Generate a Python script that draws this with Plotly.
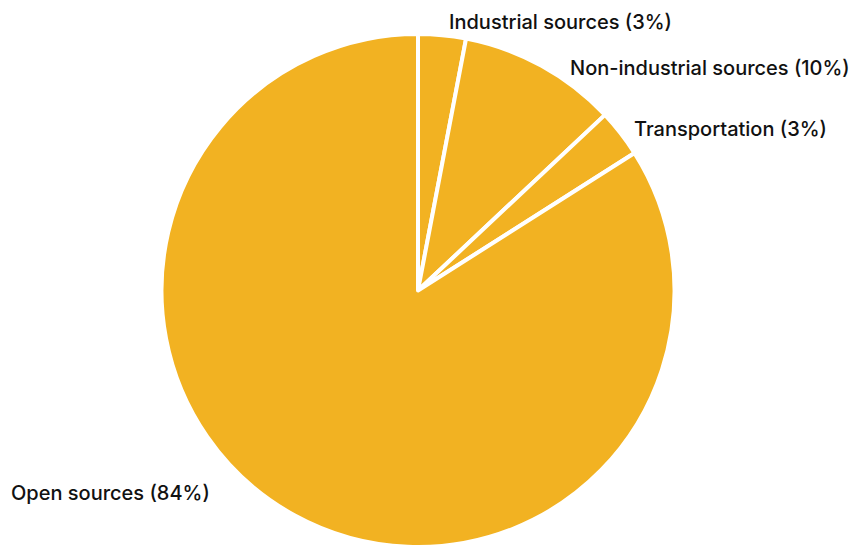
import plotly.graph_objects as go

# Emission sources and their shares (%)
categories = ["Industrial sources", "Non-industrial sources", "Transportation", "Open sources"]
shares = [3, 10, 3, 84]

W, H = 860, 547
TOP = 34  # top margin; paper coordinates span the area below it

# Label anchor points in pixels (x, y, horizontal anchor)
label_anchors = [
    (447, 22, "left"),
    (568, 68, "left"),
    (632, 129, "left"),
    (212, 493, "right"),
]

fig = go.Figure(
    go.Pie(
        labels=categories,
        values=shares,
        sort=False,
        direction="clockwise",
        rotation=0,
        marker=dict(colors=["#F2B222"] * len(categories), line=dict(color="white", width=4)),
        textinfo="none",
        hoverinfo="label+percent",
        showlegend=False,
        domain=dict(x=[0, 836 / W], y=[0, 1]),
    )
)

for name, share, (px, py, anchor) in zip(categories, shares, label_anchors):
    fig.add_annotation(
        text=f"{name} ({share}%)",
        x=px / W,
        y=(H - py) / (H - TOP),
        xref="paper",
        yref="paper",
        xanchor=anchor,
        yanchor="middle",
        showarrow=False,
        font=dict(family="Inter", size=20, color="#111111", weight=500),
    )

fig.update_layout(
    width=W,
    height=H,
    margin=dict(l=0, r=0, t=TOP, b=0),
    paper_bgcolor="white",
    plot_bgcolor="white",
)

fig.write_html("out.html")
